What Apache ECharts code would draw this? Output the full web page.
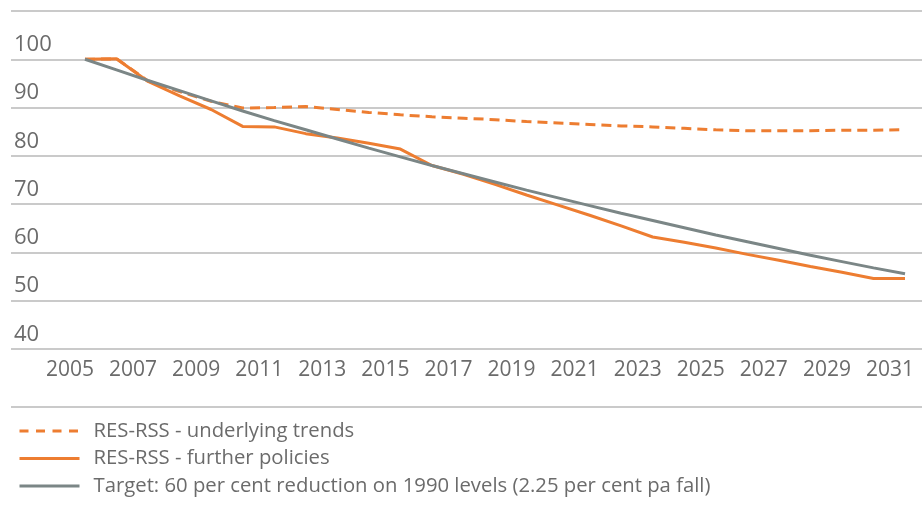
<!DOCTYPE html>
<html>
<head>
<meta charset="utf-8">
<script src="https://cdn.jsdelivr.net/npm/echarts@6/dist/echarts.min.js"></script>
<style>
  html, body { margin: 0; padding: 0; background: #fff; }
  #main { width: 922px; height: 511px; }
</style>
</head>
<body>
<div id="main"></div>
<script>
// years on the category axis (only every second one gets a label)
const years = ['2005', '2006', '2007', '2008', '2009', '2010', '2011', '2012', '2013',
  '2014', '2015', '2016', '2017', '2018', '2019', '2020', '2021', '2022', '2023',
  '2024', '2025', '2026', '2027', '2028', '2029', '2030', '2031'];

// RES-RSS - underlying trends (dashed)
const underlyingTrends = [100.0, 100.1, 95.5, 93.3, 91.3, 89.9, 90.0, 90.2, 89.6, 89.0,
  88.5, 88.1, 87.8, 87.5, 87.1, 86.8, 86.5, 86.2, 86.0, 85.7,
  85.4, 85.2, 85.2, 85.2, 85.3, 85.3, 85.4];

// RES-RSS - further policies (solid orange)
const furtherPolicies = [100.0, 100.1, 95.4, 92.4, 89.6, 86.1, 86.0, 84.6, 83.7, 82.6,
  81.4, 78.0, 76.2, 74.1, 71.9, 69.8, 67.7, 65.5, 63.2, 62.1,
  60.9, 59.6, 58.4, 57.1, 55.9, 54.6, 54.6];

// Target: 60 per cent reduction on 1990 levels (grey)
const target = [100.0, 97.8, 95.6, 93.5, 91.4, 89.3, 87.3, 85.4, 83.5, 81.6,
  79.8, 78.0, 76.3, 74.6, 72.9, 71.3, 69.7, 68.1, 66.6, 65.1,
  63.6, 62.2, 60.8, 59.4, 58.1, 56.8, 55.6];

const seriesNames = [
  'RES-RSS - underlying trends',
  'RES-RSS - further policies',
  'Target: 60 per cent reduction on 1990 levels (2.25 per cent pa fall)'
];

const orange = '#ED7D31';
const grey = '#7B8686';
const gridGrey = '#B9B9B9';
const textGrey = '#6B6B6B';
const font = '"Open Sans", "Noto Sans", sans-serif';

let myChart = echarts.init(document.getElementById('main'));

let option = {
  backgroundColor: '#fff',
  animation: false,
  grid: [
    // grid 0 only carries the horizontal grid lines + y labels
    { left: 11, right: 0, top: 11, bottom: 162 },
    // grid 1 carries the data and the year labels
    { left: 69.2, right: 1.2, top: 11, bottom: 162 }
  ],
  xAxis: [
    { gridIndex: 0, type: 'value', show: false },
    {
      gridIndex: 1,
      type: 'category',
      data: years,
      boundaryGap: true,
      axisLine: { show: false },
      axisTick: { show: false },
      axisLabel: {
        interval: 1,
        margin: 11,
        color: textGrey,
        fontFamily: font,
        fontSize: 21,
        padding: [0, 30, 0, 0]
      }
    }
  ],
  yAxis: [
    {
      gridIndex: 0,
      type: 'value',
      min: 40,
      max: 110,
      interval: 10,
      axisLine: { show: false },
      axisTick: { show: false },
      splitLine: { lineStyle: { color: gridGrey, width: 1.5 } },
      axisLabel: {
        inside: true,
        margin: 3,
        verticalAlign: 'bottom',
        lineHeight: 21,
        padding: [0, 0, 4, 0],
        color: textGrey,
        fontFamily: font,
        fontSize: 22,
        formatter: function (v) { return v === 110 ? '' : v; }
      }
    },
    { gridIndex: 1, type: 'value', min: 40, max: 110, show: false }
  ],
  legend: {
    orient: 'vertical',
    left: 18,
    top: 421,
    padding: 0,
    itemWidth: 60,
    itemHeight: 14,
    itemGap: 7.5,
    data: [
      { name: seriesNames[0], lineStyle: { type: [9, 7.5] } },
      { name: seriesNames[1] },
      { name: seriesNames[2] }
    ],
    itemStyle: { opacity: 0 },
    lineStyle: { width: 3 },
    textStyle: {
      color: textGrey,
      fontFamily: font,
      fontSize: 20.3,
      padding: [0, 0, 0, 9]
    }
  },
  graphic: [
    {
      type: 'line',
      shape: { x1: 11, y1: 407, x2: 922, y2: 407 },
      style: { stroke: gridGrey, lineWidth: 1.5 }
    }
  ],
  series: [
    {
      name: seriesNames[0],
      type: 'line',
      xAxisIndex: 1,
      yAxisIndex: 1,
      data: underlyingTrends,
      symbol: 'none',
      lineStyle: { color: orange, width: 3, type: [10, 6] },
      itemStyle: { color: orange }
    },
    {
      name: seriesNames[1],
      type: 'line',
      xAxisIndex: 1,
      yAxisIndex: 1,
      data: furtherPolicies,
      symbol: 'none',
      lineStyle: { color: orange, width: 3 },
      itemStyle: { color: orange }
    },
    {
      name: seriesNames[2],
      type: 'line',
      xAxisIndex: 1,
      yAxisIndex: 1,
      data: target,
      symbol: 'none',
      lineStyle: { color: grey, width: 3 },
      itemStyle: { color: grey }
    }
  ]
};

myChart.setOption(option);
</script>
</body>
</html>
